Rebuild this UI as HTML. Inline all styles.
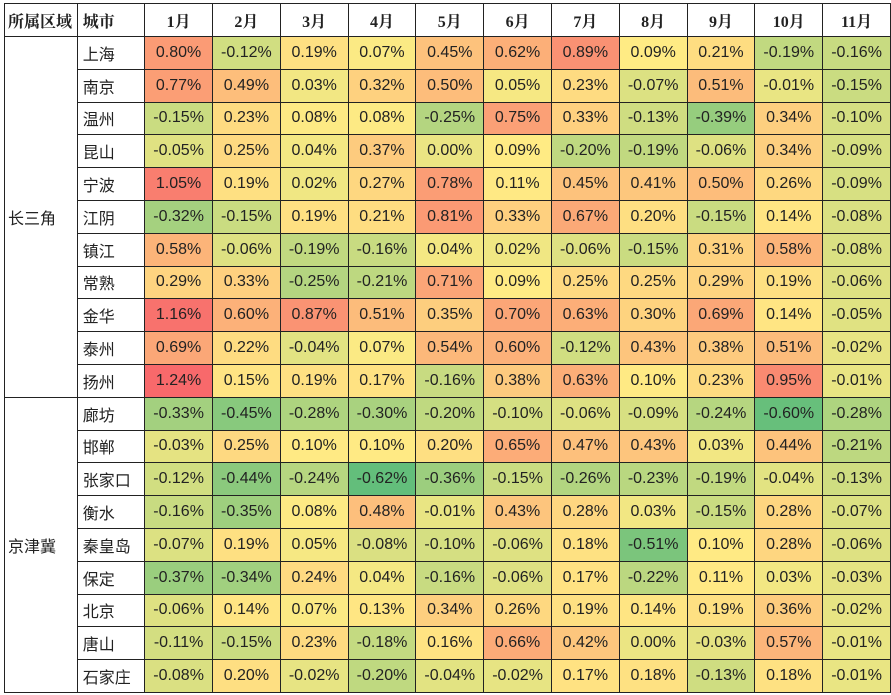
<!DOCTYPE html>
<html><head><meta charset="utf-8"><style>
body{margin:0;background:#fff;width:891px;height:695px;overflow:hidden}
table{position:absolute;left:4px;top:3px;border-collapse:collapse;table-layout:fixed;font-family:"Liberation Sans","Noto Sans CJK SC",sans-serif;font-size:16px;color:#222}
td,th{border:1px solid #222;height:31.8px;padding:0;text-align:center;white-space:nowrap}
th{font-family:"Liberation Serif","Noto Serif CJK SC",serif;font-weight:bold;font-size:16px;height:32px}
td.city{text-align:left;padding-left:5px}
td.region{background:#fff}
</style></head><body>
<table id="t">
<colgroup><col style="width:73px"><col style="width:68px"></colgroup>
<thead><tr id="hr"><th style="text-align:left;padding-left:3px">所属区域</th><th style="text-align:left;padding-left:5px">城市</th></tr></thead>
<tbody id="tb"></tbody></table>
<script>
const months=["1月","2月","3月","4月","5月","6月","7月","8月","9月","10月","11月"];
const cities=["上海","南京","温州","昆山","宁波","江阴","镇江","常熟","金华","泰州","扬州","廊坊","邯郸","张家口","衡水","秦皇岛","保定","北京","唐山","石家庄"];
const regions=[["长三角",11],["京津冀",9]];
const values=[
[0.80,-0.12,0.19,0.07,0.45,0.62,0.89,0.09,0.21,-0.19,-0.16],
[0.77,0.49,0.03,0.32,0.50,0.05,0.23,-0.07,0.51,-0.01,-0.15],
[-0.15,0.23,0.08,0.08,-0.25,0.75,0.33,-0.13,-0.39,0.34,-0.10],
[-0.05,0.25,0.04,0.37,0.00,0.09,-0.20,-0.19,-0.06,0.34,-0.09],
[1.05,0.19,0.02,0.27,0.78,0.11,0.45,0.41,0.50,0.26,-0.09],
[-0.32,-0.15,0.19,0.21,0.81,0.33,0.67,0.20,-0.15,0.14,-0.08],
[0.58,-0.06,-0.19,-0.16,0.04,0.02,-0.06,-0.15,0.31,0.58,-0.08],
[0.29,0.33,-0.25,-0.21,0.71,0.09,0.25,0.25,0.29,0.19,-0.06],
[1.16,0.60,0.87,0.51,0.35,0.70,0.63,0.30,0.69,0.14,-0.05],
[0.69,0.22,-0.04,0.07,0.54,0.60,-0.12,0.43,0.38,0.51,-0.02],
[1.24,0.15,0.19,0.17,-0.16,0.38,0.63,0.10,0.23,0.95,-0.01],
[-0.33,-0.45,-0.28,-0.30,-0.20,-0.10,-0.06,-0.09,-0.24,-0.60,-0.28],
[-0.03,0.25,0.10,0.10,0.20,0.65,0.47,0.43,0.03,0.44,-0.21],
[-0.12,-0.44,-0.24,-0.62,-0.36,-0.15,-0.26,-0.23,-0.19,-0.04,-0.13],
[-0.16,-0.35,0.08,0.48,-0.01,0.43,0.28,0.03,-0.15,0.28,-0.07],
[-0.07,0.19,0.05,-0.08,-0.10,-0.06,0.18,-0.51,0.10,0.28,-0.06],
[-0.37,-0.34,0.24,0.04,-0.16,-0.06,0.17,-0.22,0.11,0.03,-0.03],
[-0.06,0.14,0.07,0.13,0.34,0.26,0.19,0.14,0.19,0.36,-0.02],
[-0.11,-0.15,0.23,-0.18,0.16,0.66,0.42,0.00,-0.03,0.57,-0.01],
[-0.08,0.20,-0.02,-0.20,-0.04,-0.02,0.17,0.18,-0.13,0.18,-0.01]];
const flat=values.flat().sort((a,b)=>a-b);
const mn=flat[0],mx=flat[flat.length-1],md=flat[Math.floor(flat.length/2)];
function mix(a,b,t){return a.map((v,i)=>Math.round(v+(b[i]-v)*t));}
const G=[99,190,123],Y=[255,235,132],R=[248,105,107];
function color(v){const c=v<=md?mix(G,Y,(v-mn)/(md-mn)):mix(Y,R,(v-md)/(mx-md));return `rgb(${c.join(',')})`;}
const hr=document.getElementById('hr');
months.forEach((m,i)=>{const th=document.createElement('th');th.textContent=m;th.style.width='67.5px';


hr.appendChild(th);});
const tb=document.getElementById('tb');
let ri=0,rcount=0;
cities.forEach((c,r)=>{
 const tr=document.createElement('tr');
 
 
 if(rcount===0){const td=document.createElement('td');td.className='region';td.rowSpan=regions[ri][1];td.textContent=regions[ri][0];td.style.textAlign='left';td.style.paddingLeft='3px';
 
 
 tr.appendChild(td);}
 rcount++;if(rcount===regions[ri][1]){ri++;rcount=0;}
 const tc=document.createElement('td');tc.className='city';tc.textContent=c;
 
 
 tr.appendChild(tc);
 values[r].forEach((v,j)=>{const td=document.createElement('td');td.textContent=v.toFixed(2)+'%';td.style.background=color(v);
 
 
 tr.appendChild(td);});
 tb.appendChild(tr);
});
</script></body></html>
